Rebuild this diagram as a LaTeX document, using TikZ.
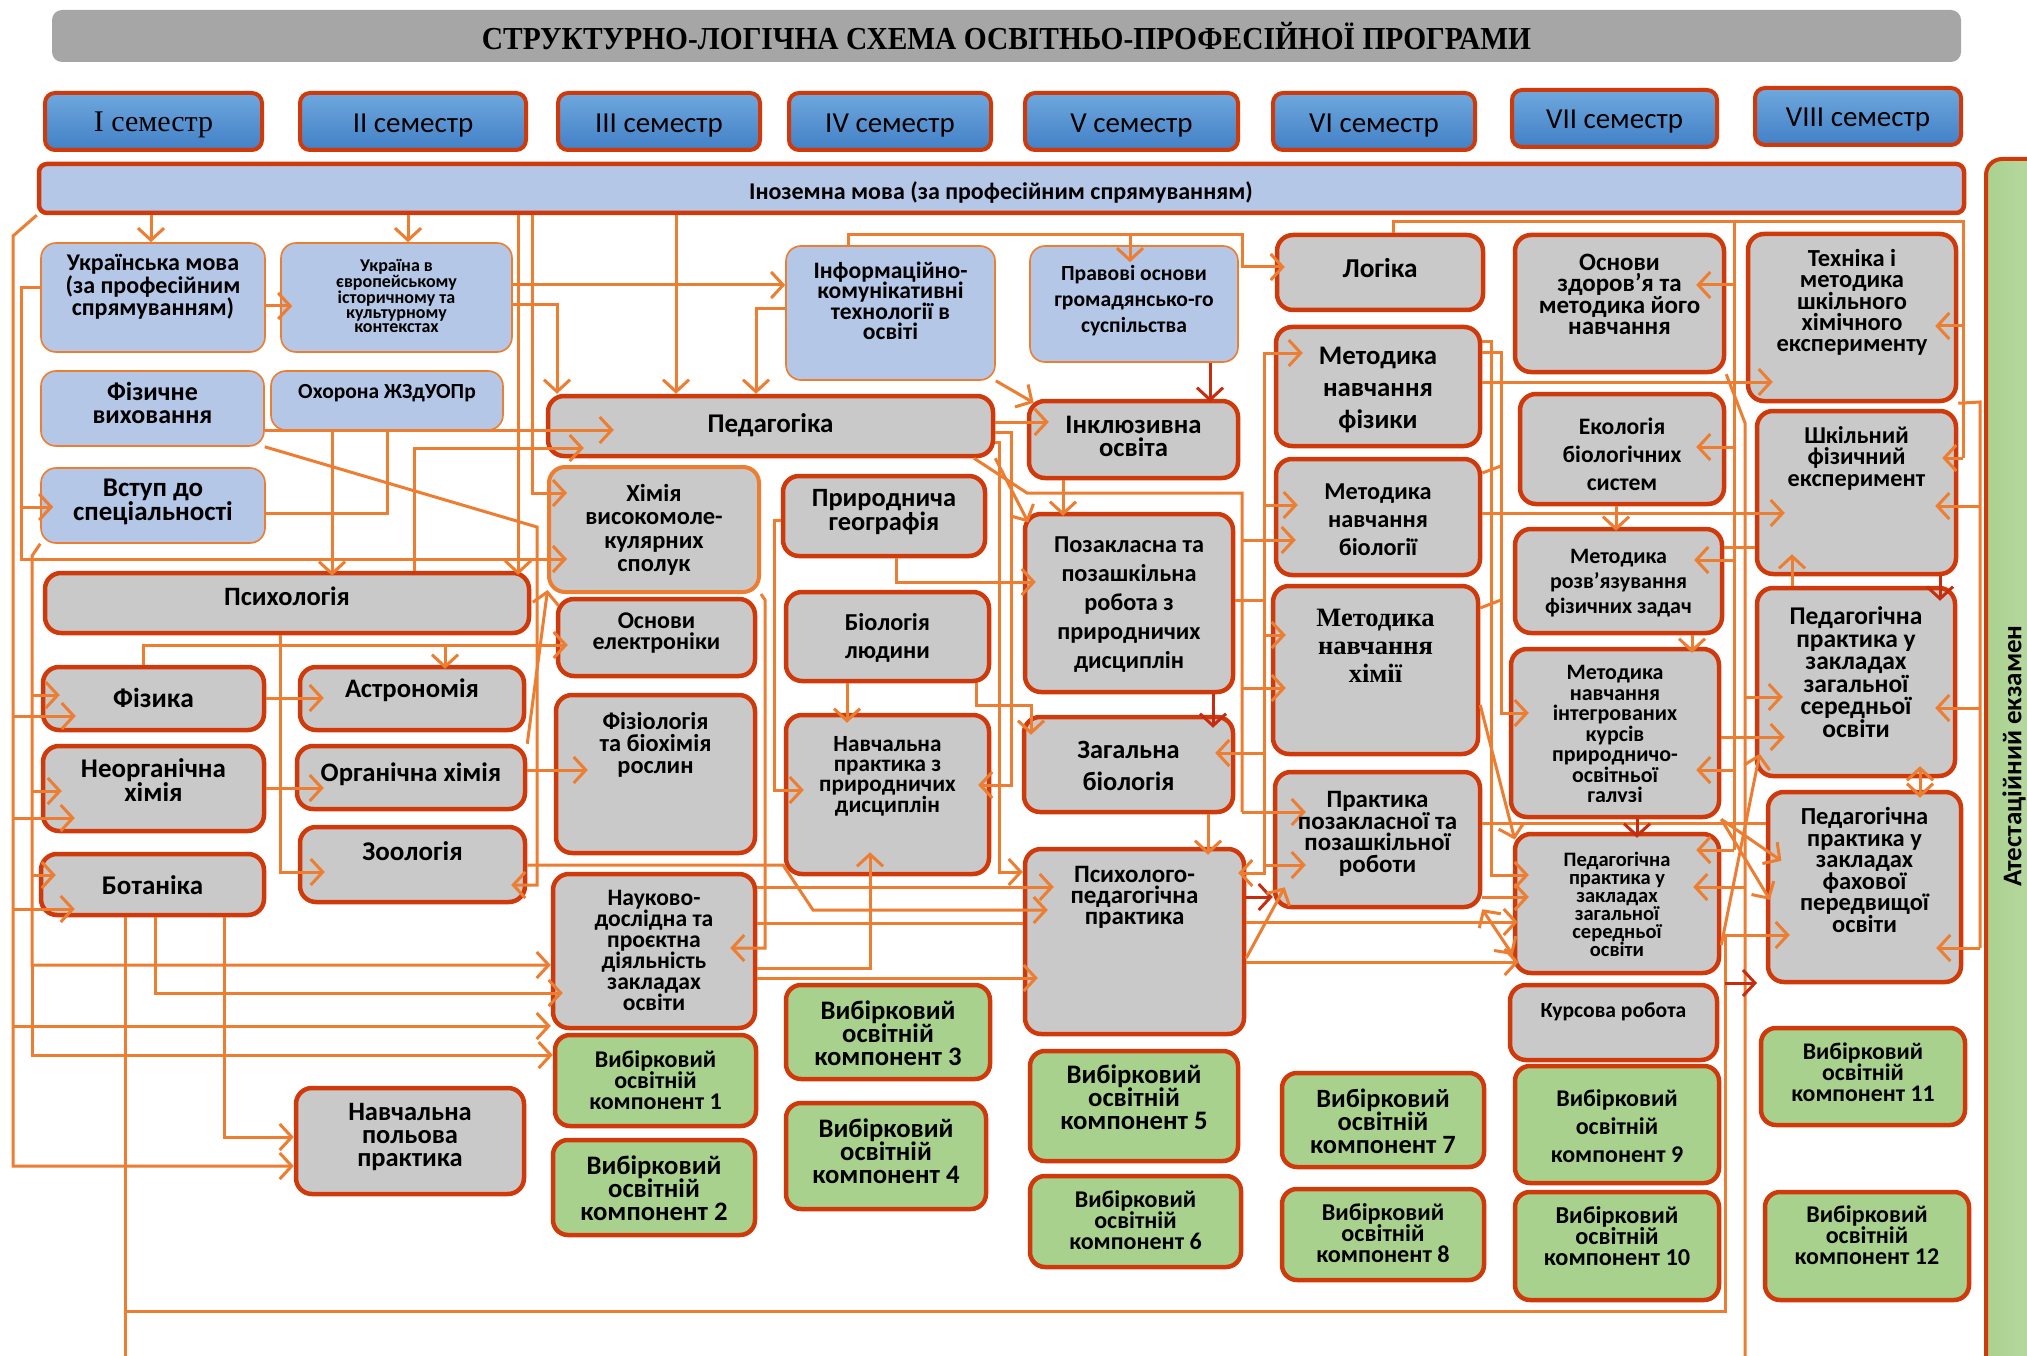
\documentclass[tikz,border=0pt]{standalone}
\usepackage{fontspec}
\setmainfont{Carlito}
\newfontfamily\tnr{Liberation Serif}
\usetikzlibrary{arrows.meta}
\definecolor{orng}{RGB}{237,125,49}
\definecolor{bord}{RGB}{208,58,10}
\definecolor{dred}{RGB}{196,45,15}
\definecolor{lblue}{RGB}{180,199,231}
\definecolor{gfill}{RGB}{201,201,201}
\definecolor{grn}{RGB}{169,209,142}
\definecolor{ttl}{RGB}{166,166,166}
\definecolor{semT}{RGB}{111,168,222}
\definecolor{semB}{RGB}{66,128,198}
\newcommand\fz[2]{\fontsize{#1}{#2}\selectfont}
\newcommand\bx[6]{%
  \pgfmathsetmacro\bxw{#5-#3}\pgfmathsetmacro\bxh{#6-#4}%
  \node[#1, minimum width=\bxw pt, minimum height=\bxh pt] (#2) at ({(#3+#5)/2},{(#4+#6)/2}) {};}
\begin{document}
\begin{tikzpicture}[x=1pt,y=-1pt,
  semb/.style={draw=bord, line width=4pt, top color=semT, bottom color=semB, rounded corners=10pt, inner sep=0},
  bluebox/.style={draw=orng, line width=1.6pt, fill=lblue, rounded corners=15pt, inner sep=0},
  graybox/.style={draw=bord, line width=4.5pt, fill=gfill, rounded corners=16pt, inner sep=0},
  graybox2/.style={draw=orng, line width=4pt, fill=gfill, rounded corners=16pt, inner sep=0},
  grnbox/.style={draw=bord, line width=4.5pt, fill=grn, rounded corners=15pt, inner sep=0},
  txt/.style={align=center, inner sep=0pt},
  ar/.style={draw=orng, line width=3pt, -{Straight Barb[length=12pt,width=26pt]}},
  ar2/.style={draw=orng, line width=3pt, {Straight Barb[length=12pt,width=26pt]}-{Straight Barb[length=12pt,width=26pt]}},
  dar/.style={draw=dred, line width=3pt, -{Straight Barb[length=12pt,width=26pt]}},
  ln/.style={draw=orng, line width=3pt},
  deep/.style={shorten >=-#1pt}]
\clip (0,0) rectangle (2027,1356);
\fill[white] (0,0) rectangle (2027,1356);
% ---------- boxes ----------
\node[fill=ttl, rounded corners=10pt, minimum width=1909pt, minimum height=52pt, inner sep=0] (title) at (1006.5,36) {};
\bx{semb}{sem1}{45}{93}{262}{150}
\bx{semb}{sem2}{300}{93}{526}{150}
\bx{semb}{sem3}{558}{93}{760}{150}
\bx{semb}{sem4}{789}{93}{991}{150}
\bx{semb}{sem5}{1025}{93}{1238}{150}
\bx{semb}{sem6}{1273}{93}{1475}{150}
\bx{semb}{sem7}{1512}{90}{1717}{147}
\bx{semb}{sem8}{1755}{88}{1961}{145}
\bx{draw=bord, line width=4.5pt, fill=lblue, rounded corners=8pt, inner sep=0}{ino}{39}{164}{1964}{213}
\bx{draw=bord, line width=4pt, left color=grn, right color=grn!70!white, rounded corners=16pt, inner sep=0}{atest}{1986}{159}{2070}{1400}

\bx{bluebox}{ukr}{41}{243}{265}{352}
\bx{bluebox}{ukrEu}{281}{243}{512}{352}
\bx{bluebox}{fizvych}{41}{371}{264}{446}
\bx{bluebox}{ohorona}{271}{371}{503}{430}
\bx{bluebox}{vstup}{41}{468}{265}{543}
\bx{graybox}{psych}{45}{573}{529}{633}
\bx{graybox}{fizyka}{43}{667}{264}{730}
\bx{graybox}{neorg}{43}{746}{264}{831}
\bx{graybox}{botan}{41}{854}{264}{915}
\bx{graybox}{astro}{300}{667}{524}{730}
\bx{graybox}{org}{297}{746}{525}{809}
\bx{graybox}{zool}{300}{827}{525}{902}
\bx{graybox}{polova}{296}{1088}{524}{1194}

\bx{graybox}{ped}{548}{396}{993}{456}
\bx{graybox2}{himVMS}{549}{467}{759}{592}
\bx{graybox}{electr}{558}{599}{755}{676}
\bx{graybox}{fiziol}{556}{695}{755}{853}
\bx{graybox}{naukovo}{553}{874}{755}{1028}
\bx{grnbox}{vok1}{555}{1035}{756}{1126}
\bx{grnbox}{vok2}{553}{1140}{755}{1235}

\bx{bluebox}{ikt}{786}{246}{995}{380}
\bx{graybox}{prygeo}{783}{476}{985}{556}
\bx{graybox}{biolLyud}{786}{592}{989}{681}
\bx{graybox}{navchPr}{786}{715}{989}{874}
\bx{grnbox}{vok3}{786}{985}{990}{1079}
\bx{grnbox}{vok4}{786}{1103}{986}{1209}

\bx{bluebox}{pravovi}{1030}{246}{1238}{362}
\bx{graybox}{inkl}{1029}{401}{1238}{478}
\bx{graybox}{pozakl}{1025}{514}{1233}{692}
\bx{graybox}{zagBiol}{1024}{717}{1233}{812}
\bx{graybox}{psychPed}{1025}{849}{1244}{1034}
\bx{grnbox}{vok5}{1030}{1051}{1238}{1161}
\bx{grnbox}{vok6}{1030}{1176}{1241}{1267}

\bx{graybox}{logika}{1277}{235}{1483}{310}
\bx{graybox}{metFiz}{1276}{327}{1480}{446}
\bx{graybox}{metBiol}{1276}{459}{1480}{575}
\bx{graybox}{metHim}{1273}{586}{1478}{754}
\bx{graybox}{praktPoz}{1275}{772}{1480}{907}
\bx{grnbox}{vok7}{1282}{1073}{1484}{1167}
\bx{grnbox}{vok8}{1282}{1189}{1484}{1280}

\bx{graybox}{osnZdor}{1515}{235}{1724}{372}
\bx{graybox}{ekol}{1520}{394}{1724}{504}
\bx{graybox}{metRozv}{1515}{529}{1722}{633}
\bx{graybox}{metIntegr}{1511}{649}{1719}{817}
\bx{graybox}{pedPrSmall}{1515}{834}{1719}{973}
\bx{graybox}{kursova}{1510}{985}{1717}{1060}
\bx{grnbox}{vok9}{1515}{1066}{1719}{1183}
\bx{grnbox}{vok10}{1515}{1192}{1719}{1300}

\bx{graybox}{tehnika}{1748}{234}{1956}{401}
\bx{graybox}{shkFiz}{1757}{411}{1956}{574}
\bx{graybox}{pedPrZag}{1757}{588}{1955}{776}
\bx{graybox}{pedPrFah}{1768}{792}{1961}{982}
\bx{grnbox}{vok11}{1761}{1028}{1965}{1125}
\bx{grnbox}{vok12}{1765}{1192}{1969}{1300}

% ---------- bus coordinates ----------
\coordinate (L13) at (13,236);
\coordinate (L21) at (21,288);
\coordinate (L32) at (32,556);
\coordinate (B1) at (125,1311);
\coordinate (B2) at (1725,1311);
\coordinate (F1) at (445,645);
\coordinate (J387) at (387,430);
\coordinate (T1) at (1130,235);
\coordinate (P1) at (1242,493);
\coordinate (Q1) at (1264,600);
\coordinate (R1) at (1393,222);
\coordinate (R2) at (1734,222);
\coordinate (R3) at (1963,222);
\coordinate (S1) at (1745,423);
\coordinate (S2) at (1980,402);
\coordinate (M1) at (1491,342);
\coordinate (M2) at (1501,352);
\coordinate (K1) at (1757,983);

% ---------- connectors ----------
\draw[ar] (ino.south -| 151,0) -- (ukr.north -| 151,0);
\draw[ar] (ino.south -| 408,0) -- (ukrEu.north -| 408,0);
\draw[ar] (ino.south -| 676,0) -- (ped.north -| 676,0);
\draw[ar,deep=4] (ino.south -| 518,0) -- (psych.north -| 518,0);
\draw[ar,deep=20] (ino.south -| 532,0) -- (532,493) -- (himVMS.west |- 0,493);
% left buses
\draw[ar] (ino.south west) -- (L13) -- (L13 |- 0,1166) -- (polova.west |- 0,1166);
\draw[ar,deep=35] (L13 |- 0,716) -- (fizyka.west |- 0,716);
\draw[ar,deep=34] (L13 |- 0,818) -- (neorg.west |- 0,818);
\draw[ar,deep=36] (L13 |- 0,909) -- (botan.west |- 0,909);
\draw[ar] (L13 |- 0,1026) -- (naukovo.west |- 0,1026);
\draw[ar,deep=13] (ukr.west |- 0,288) -- (L21) -- (L21 |- 0,507) -- (vstup.west |- 0,507);
\draw[ar,deep=20] (L21 |- 0,507) -- (L21 |- 0,559) -- (himVMS.west |- 0,559);
\draw[ar] (vstup.south west) -- (L32) -- (L32 |- 0,965) -- (naukovo.west |- 0,965);
\draw[ar,deep=19] (L32 |- 0,695) -- (fizyka.west |- 0,695);
\draw[ar,deep=21] (L32 |- 0,791) -- (neorg.west |- 0,791);
\draw[ar,deep=17] (L32 |- 0,875) -- (botan.west |- 0,875);
\draw[ar] (L32 |- 0,965) -- (L32 |- 0,1055) -- (vok1.west |- 0,1055);
% botany bottom
\draw[ar,deep=24] (botan.south -| B1) -- (B1) -- (B2) -- (B2 |- 0,935) -- (pedPrFah.west |- 0,935);
\draw[ln] (B1) -- (B1 |- 0,1356);
\draw[ar,deep=12] (botan.south -| 155,0) -- (155,993) -- (naukovo.west |- 0,993);
\draw[ar] (botan.south -| 224,0) -- (224,1137) -- (polova.west |- 0,1137);
% physics, psychology
\draw[ar,deep=12] (fizyka.north -| 143,0) -- (143,645) -- (electr.west |- 0,645);
\draw[ar,deep=4] (F1) -- (astro.north -| F1);
\draw[ar,deep=27] (psych.south -| 280,0) -- (280,872) -- (zool.west |- 0,872);
\draw[ar,deep=26] (fizyka.east |- 0,698) -- (astro.west |- 0,698);
\draw[ar,deep=29] (neorg.east |- 0,788) -- (org.west |- 0,788);
\draw[ar,deep=34] (org.east |- 0,770) -- (fiziol.west |- 0,770);
\draw[ar,deep=4] (org.north east) -- (himVMS.south west);
\draw[ar,deep=25] (zool.east |- 0,865) -- (783,865) -- (813,910) -- (psychPed.west |- 0,910);
\draw[ar,deep=16] (fizvych.south east) -- (537,527) -- (537,885) -- (zool.east |- 0,885);
\draw[ar,deep=68] (fizvych.east |- 0,430) -- (ped.west |- 0,430);
\draw[ar,deep=5] (ohorona.south -| 332,0) -- (psych.north -| 332,0);
\draw[ln] (vstup.east |- 0,513) -- (387,513) -- (J387);
\draw[ar,deep=38] (psych.north -| 414,0) -- (414,448) -- (ped.west |- 0,448);
% second column
\draw[ar,deep=12] (ukr.east |- 0,306) -- (ukrEu.west |- 0,306);
\draw[ar] (ukrEu.east |- 0,285) -- (ikt.west |- 0,285);
\draw[ar] (ukrEu.east |- 0,305) -- (557,305) -- (ped.north -| 557,0);
\draw[ar] (ikt.west |- 0,309) -- (756,309) -- (ped.north -| 756,0);
\draw[ar,deep=10] (ikt.north -| 848,0) -- (848,235) -- (1242,235) -- (1242,267) -- (logika.west |- 0,267);
\draw[ar,deep=17] (T1) -- (pravovi.north -| T1);
\draw[ar,deep=8] (ikt.south east) -- (inkl.north west);
\draw[dar,deep=3] (pravovi.south -| 1210,0) -- (inkl.north -| 1210,0);
\draw[ar,deep=22] (ped.east |- 0,422) -- (inkl.west |- 0,422);
\draw[ar,deep=13] (ped.east |- 0,432) -- (1011,432) -- (1011,785) -- (navchPr.east |- 0,785);
\draw[ar,deep=12] (ped.south east) -- (pozakl.north west);
\draw[ln] (ped.south -| 974,0) -- (1027,493) -- (P1) -- (P1 |- 0,812);
\draw[ar,deep=33] (P1 |- 0,812) -- (praktPoz.west |- 0,812);
\draw[ar,deep=15] (P1 |- 0,688) -- (metHim.west |- 0,688);
\draw[ar,deep=22] (P1 |- 0,540) -- (metBiol.west |- 0,540);
\draw[ar,deep=4] (inkl.south -| 1063,0) -- (pozakl.north -| 1063,0);
\draw[ar,deep=13] (prygeo.south -| 896,0) -- (896,582) -- (pozakl.west |- 0,582);
\draw[ar,deep=20] (prygeo.west |- 0,520) -- (774,520) -- (774,790) -- (navchPr.west |- 0,790);
\draw[ar,deep=10] (biolLyud.south -| 847,0) -- (navchPr.north -| 847,0);
\draw[ar,deep=20] (biolLyud.south -| 976,0) -- (976,705) -- (1031,705) -- (zagBiol.north -| 1031,0);
\draw[ar,deep=8] (zagBiol.south -| 1208,0) -- (psychPed.north -| 1208,0);
\draw[dar,deep=13] (pozakl.south -| 1213,0) -- (zagBiol.north -| 1213,0);
\draw[ar,deep=31] (naukovo.east |- 0,887) -- (psychPed.west |- 0,887);
\draw[ln] (naukovo.east |- 0,923) -- (psychPed.west |- 0,923);
\draw[ar,deep=15] (naukovo.east |- 0,978) -- (psychPed.west |- 0,978);
\draw[ar,deep=24] (naukovo.east |- 0,968) -- (870,968) -- (navchPr.south -| 870,0);
\draw[ar,deep=27] (himVMS.south east) -- (765,600) -- (765,948) -- (naukovo.east |- 0,948);
\draw[ar] (ped.east |- 0,442) -- (999,442) -- (999,872) -- (psychPed.west |- 0,872);
% col 5 -> col 6
\draw[ln] (pozakl.east |- Q1) -- (Q1);
\draw[ar,deep=29] (Q1) -- (Q1 |- 0,353) -- (metFiz.west |- 0,353);
\draw[ar,deep=33] (Q1) -- (Q1 |- 0,865) -- (praktPoz.west |- 0,865);
\draw[ar,deep=8] (Q1 |- 0,865) -- (Q1 |- 0,873) -- (psychPed.east |- 0,873);
\draw[ar,deep=24] (Q1 |- 0,505) -- (metBiol.west |- 0,505);
\draw[ar,deep=15] (Q1 |- 0,635) -- (metHim.west |- 0,635);
\draw[ar,deep=20] (Q1 |- 0,753) -- (zagBiol.east |- 0,753);
\draw[dar] (psychPed.east |- 0,897) -- (praktPoz.west |- 0,897);
\draw[ar,deep=25] (psychPed.east |- 0,958) -- (praktPoz.south west);
\draw[ar,deep=5] (psychPed.east |- 0,922) -- (pedPrSmall.west |- 0,922);
\draw[ar,deep=6] (psychPed.east |- 0,962) -- (pedPrSmall.west |- 0,962);
% col 6 -> col 7/8
\draw[ar2] (praktPoz.south east) -- (pedPrSmall.west |- 0,955);
\draw[ln] (praktPoz.east |- 0,823) -- (pedPrFah.west |- 0,823);
\draw[ar,deep=16] (praktPoz.east |- 0,897) -- (pedPrSmall.west |- 0,897);
\draw[ar,deep=16] (metFiz.east |- M1) -- (M1) -- (M1 |- 0,875) -- (pedPrSmall.west |- 0,875);
\draw[ar,deep=20] (metFiz.east |- M2) -- (M2) -- (M2 |- 0,713) -- (metIntegr.west |- 0,713);
\draw[ln] (metBiol.east |- 0,473) -- (M2 |- 0,466);
\draw[ln] (metHim.east |- 0,608) -- (M2 |- 0,600);
\draw[ar,deep=8] (metHim.east |- 0,705) -- (pedPrSmall.north west);
\draw[ar,deep=27] (metFiz.east |- 0,382) -- (tehnika.west |- 0,382);
\draw[ar,deep=30] (metBiol.east |- 0,513) -- (shkFiz.west |- 0,513);
% top-right buses
\draw[ln] (logika.north -| R1) -- (R1) -- (R3) -- (R3 |- 0,458);
\draw[ar,deep=23] (R3 |- 0,326) -- (tehnika.east |- 0,326);
\draw[ar,deep=16] (R3 |- 0,458) -- (shkFiz.east |- 0,458);
\draw[ln] (R2) -- (R2 |- 0,850);
\draw[ar,deep=30] (R2 |- 0,285) -- (osnZdor.east |- 0,285);
\draw[ar,deep=30] (R2 |- 0,447) -- (ekol.east |- 0,447);
\draw[ar,deep=30] (R2 |- 0,560) -- (metRozv.east |- 0,560);
\draw[ar,deep=25] (R2 |- 0,770) -- (metIntegr.east |- 0,770);
\draw[ar,deep=25] (R2 |- 0,850) -- (pedPrSmall.east |- 0,850);
\draw[ln] (osnZdor.south east) -- (S1) -- (S1 |- 0,1356);
\draw[ar,deep=28] (S1 |- 0,887) -- (pedPrSmall.east |- 0,887);
\draw[ar,deep=28] (S1 |- 0,697) -- (pedPrZag.west |- 0,697);
\draw[ar,deep=30] (metIntegr.east |- 0,737) -- (pedPrZag.west |- 0,737);
\draw[ar,deep=19] (metIntegr.south east) -- (pedPrFah.west |- 0,850);
\draw[ar,deep=8] (metIntegr.south east) -- (pedPrFah.west |- 0,893);
\draw[ar,deep=25] (pedPrSmall.east |- 0,945) -- (pedPrZag.south west);
\draw[ar,deep=4] (ekol.south -| 1616,0) -- (metRozv.north -| 1616,0);
\draw[ar,deep=6] (metRozv.south -| 1692,0) -- (metIntegr.north -| 1692,0);
\draw[dar,deep=6] (metIntegr.south -| 1637,0) -- (pedPrSmall.north -| 1637,0);
\draw[ln] (metRozv.east |- 0,547) -- (shkFiz.west |- 0,547);
\draw[dar] (B2 |- K1) -- (K1);
\draw[ar2,shorten <=-12pt,shorten >=-8pt] (pedPrZag.south -| 1920,0) -- (pedPrFah.north -| 1920,0);
\draw[dar,deep=15] (shkFiz.south -| 1940,0) -- (pedPrZag.north -| 1940,0);
\draw[ar,deep=22] (pedPrZag.north -| 1792,0) -- (shkFiz.south -| 1792,0);
\draw[ln] (tehnika.south east) -- (S2) -- (S2 |- 0,948);
\draw[ar,deep=23] (S2 |- 0,506) -- (shkFiz.east |- 0,506);
\draw[ar,deep=22] (S2 |- 0,708) -- (pedPrZag.east |- 0,708);
\draw[ar,deep=27] (S2 |- 0,948) -- (pedPrFah.east |- 0,948);

% ---------- texts ----------
\node[txt, font=\tnr\bfseries\fz{32}{32}] (title-t) at (title.center |- 0,36) {\scalebox{0.92}[1]{СТРУКТУРНО-ЛОГІЧНА СХЕМА ОСВІТНЬО-ПРОФЕСІЙНОЇ ПРОГРАМИ}};
\node[txt, font=\tnr\fz{30}{30}] (sem1-t) at (sem1.center |- 0,125) {I семестр};
\node[txt, font=\fz{29}{29}] (sem2-t) at (sem2.center |- 0,126) {II семестр};
\node[txt, font=\fz{29}{29}] (sem3-t) at (sem3.center |- 0,126) {III семестр};
\node[txt, font=\fz{29}{29}] (sem4-t) at (sem4.center |- 0,126) {IV семестр};
\node[txt, font=\fz{29}{29}] (sem5-t) at (sem5.center |- 0,126) {V семестр};
\node[txt, font=\fz{29}{29}] (sem6-t) at (sem6.center |- 0,126) {VI семестр};
\node[txt, font=\fz{29}{29}] (sem7-t) at (sem7.center |- 0,122) {VII семестр};
\node[txt, font=\fz{29}{29}] (sem8-t) at (sem8.center |- 0,120) {VIII семестр};
\node[txt, font=\bfseries\fz{24}{24}] (ino-t) at (1001,193) {Іноземна мова (за професійним спрямуванням)};
\node[txt, font=\bfseries\fz{27}{27}, rotate=90] (atest-t) at (2014,756) {Атестаційний екзамен};

\node[txt, font=\bfseries\fz{24}{20}] (ukr-t) at (ukr.center |- 0,287) {Українська мова\\(за професійним\\спрямуванням)};
\node[txt, font=\bfseries\fz{18}{14.5}] (ukrEu-t) at (ukrEu.center |- 0,296) {Україна в\\європейському\\історичному та\\культурному\\контекстах};
\node[txt, font=\bfseries\fz{26}{23}] (fizvych-t) at (fizvych.center |- 0,403) {Фізичне\\виховання};
\node[txt, font=\bfseries\fz{21.5}{21}] (ohorona-t) at (ohorona.center |- 0,393) {Охорона ЖЗдУОПр};
\node[txt, font=\bfseries\fz{27}{22}] (vstup-t) at (vstup.center |- 0,502) {Вступ до\\спеціальності};
\node[txt, font=\bfseries\fz{26.5}{26}] (psych-t) at (psych.center |- 0,596) {Психологія};
\node[txt, font=\bfseries\fz{27.5}{27}] (fizyka-t) at (fizyka.center |- 0,698) {Фізика};
\node[txt, font=\bfseries\fz{27}{22}] (neorg-t) at (neorg.center |- 0,780) {Неорганічна\\хімія};
\node[txt, font=\bfseries\fz{27}{27}] (botan-t) at (botan.center |- 0,885) {Ботаніка};
\node[txt, font=\bfseries\fz{26.7}{26}] (astro-t) at (astro.center |- 0,690) {Астрономія};
\node[txt, font=\bfseries\fz{26.7}{26}] (org-t) at (org.center |- 0,774) {Органічна хімія};
\node[txt, font=\bfseries\fz{27}{27}] (zool-t) at (zool.center |- 0,851) {Зоологія};
\node[txt, font=\bfseries\fz{26.5}{23}] (polova-t) at (polova.center |- 0,1137) {Навчальна\\польова\\практика};

\node[txt, font=\bfseries\fz{27}{27}] (ped-t) at (ped.center |- 0,425) {Педагогіка};
\node[txt, font=\bfseries\fz{24.5}{23.5}] (himVMS-t) at (himVMS.center |- 0,530) {Хімія\\високомоле-\\кулярних\\сполук};
\node[txt, font=\bfseries\fz{24}{21}] (electr-t) at (electr.center |- 0,633) {Основи\\електроніки};
\node[txt, font=\bfseries\fz{24.4}{22}] (fiziol-t) at (fiziol.center |- 0,745) {Фізіологія\\та біохімія\\рослин};
\node[txt, font=\bfseries\fz{23.6}{21}] (naukovo-t) at (naukovo.center |- 0,950) {Науково-\\дослідна та\\проєктна\\діяльність\\закладах\\освіти};
\node[txt, font=\bfseries\fz{24}{21}] (vok1-t) at (vok1.center |- 0,1080) {Вибірковий\\освітній\\компонент 1};
\node[txt, font=\bfseries\fz{26.7}{23}] (vok2-t) at (vok2.center |- 0,1188) {Вибірковий\\освітній\\компонент 2};

\node[txt, font=\bfseries\fz{23.6}{20.5}] (ikt-t) at (ikt.center |- 0,301) {Інформаційно-\\комунікативні\\технології в\\освіті};
\node[txt, font=\bfseries\fz{26.4}{22}] (prygeo-t) at (prygeo.center |- 0,512) {Природнича\\географія};
\node[txt, font=\bfseries\fz{24.3}{28}] (biolLyud-t) at (biolLyud.center |- 0,638) {Біологія\\людини};
\node[txt, font=\bfseries\fz{23.2}{20}] (navchPr-t) at (navchPr.center |- 0,776) {Навчальна\\практика з\\природничих\\дисциплін};
\node[txt, font=\bfseries\fz{26.7}{23}] (vok3-t) at (vok3.center |- 0,1033) {Вибірковий\\освітній\\компонент 3};
\node[txt, font=\bfseries\fz{26.7}{23}] (vok4-t) at (vok4.center |- 0,1151) {Вибірковий\\освітній\\компонент 4};

\node[txt, font=\bfseries\fz{21.6}{26}] (pravovi-t) at (pravovi.center |- 0,301) {Правові основи\\громадянсько-го\\суспільства};
\node[txt, font=\bfseries\fz{26.7}{23}] (inkl-t) at (inkl.center |- 0,436) {Інклюзивна\\освіта};
\node[txt, font=\bfseries\fz{24.3}{29}] (pozakl-t) at (pozakl.center |- 0,605) {Позакласна та\\позашкільна\\робота з\\природничих\\дисциплін};
\node[txt, font=\bfseries\fz{26.4}{32}] (zagBiol-t) at (zagBiol.center |- 0,766) {Загальна\\біологія};
\node[txt, font=\bfseries\fz{25}{21}] (psychPed-t) at (psychPed.center |- 0,897) {Психолого-\\педагогічна\\практика};
\node[txt, font=\bfseries\fz{26.7}{23}] (vok5-t) at (vok5.center |- 0,1097) {Вибірковий\\освітній\\компонент 5};
\node[txt, font=\bfseries\fz{24}{21}] (vok6-t) at (vok6.center |- 0,1220) {Вибірковий\\освітній\\компонент 6};

\node[txt, font=\bfseries\fz{27.3}{27}] (logika-t) at (logika.center |- 0,268) {Логіка};
\node[txt, font=\bfseries\fz{26.8}{32}] (metFiz-t) at (metFiz.center |- 0,390) {Методика\\навчання\\фізики};
\node[txt, font=\bfseries\fz{24.3}{28}] (metBiol-t) at (metBiol.center |- 0,520) {Методика\\навчання\\біології};
\node[txt, font=\tnr\bfseries\fz{26.5}{28}] (metHim-t) at (metHim.center |- 0,646) {Методика\\навчання\\хімії};
\node[txt, font=\bfseries\fz{25}{21.5}] (praktPoz-t) at (praktPoz.center |- 0,834) {Практика\\позакласної та\\позашкільної\\роботи};
\node[txt, font=\bfseries\fz{26.4}{23}] (vok7-t) at (vok7.center |- 0,1121) {Вибірковий\\освітній\\компонент 7};
\node[txt, font=\bfseries\fz{24.2}{21}] (vok8-t) at (vok8.center |- 0,1233) {Вибірковий\\освітній\\компонент 8};

\node[txt, font=\bfseries\fz{25}{21}] (osnZdor-t) at (osnZdor.center |- 0,294) {Основи\\здоров’я та\\методика його\\навчання};
\node[txt, font=\bfseries\fz{23.6}{28}] (ekol-t) at (ekol.center |- 0,454) {Екологія\\біологічних\\систем};
\node[txt, font=\bfseries\fz{22}{25}] (metRozv-t) at (metRozv.center |- 0,583) {Методика\\розв’язування\\фізичних задач};
\begin{scope}
\clip (1511,649) rectangle (1719,801);
\node[txt, font=\bfseries\fz{22}{20.5}] (metIntegr-t) at (metIntegr.center |- 0,736) {Методика\\навчання\\інтегрованих\\курсів\\природничо-\\освітньої\\галузі};
\end{scope}
\node[txt, font=\bfseries\fz{20.5}{18}] (pedPrSmall-t) at (pedPrSmall.center |- 0,904) {Педагогічна\\практика у\\закладах\\загальної\\середньої\\освіти};
\node[txt, font=\bfseries\fz{21.6}{21}] (kursova-t) at (kursova.center |- 0,1012) {Курсова робота};
\node[txt, font=\bfseries\fz{24}{28}] (vok9-t) at (vok9.center |- 0,1126) {Вибірковий\\освітній\\компонент 9};
\node[txt, font=\bfseries\fz{24.3}{21}] (vok10-t) at (vok10.center |- 0,1236) {Вибірковий\\освітній\\компонент 10};

\node[txt, font=\bfseries\fz{24.5}{21}] (tehnika-t) at (tehnika.center |- 0,302) {Техніка і\\методика\\шкільного\\хімічного\\експерименту};
\node[txt, font=\bfseries\fz{24.2}{21.5}] (shkFiz-t) at (shkFiz.center |- 0,458) {Шкільний\\фізичний\\експеримент};
\node[txt, font=\bfseries\fz{25.5}{22.5}] (pedPrZag-t) at (pedPrZag.center |- 0,672) {Педагогічна\\практика у\\закладах\\загальної\\середньої\\освіти};
\node[txt, font=\bfseries\fz{24.5}{21.5}] (pedPrFah-t) at (pedPrFah.center |- 0,870) {Педагогічна\\практика у\\закладах\\фахової\\передвищої\\освіти};
\node[txt, font=\bfseries\fz{23.8}{21}] (vok11-t) at (vok11.center |- 0,1072) {Вибірковий\\освітній\\компонент 11};
\node[txt, font=\bfseries\fz{24}{21}] (vok12-t) at (vok12.center |- 0,1235) {Вибірковий\\освітній\\компонент 12};
\end{tikzpicture}
\end{document}
